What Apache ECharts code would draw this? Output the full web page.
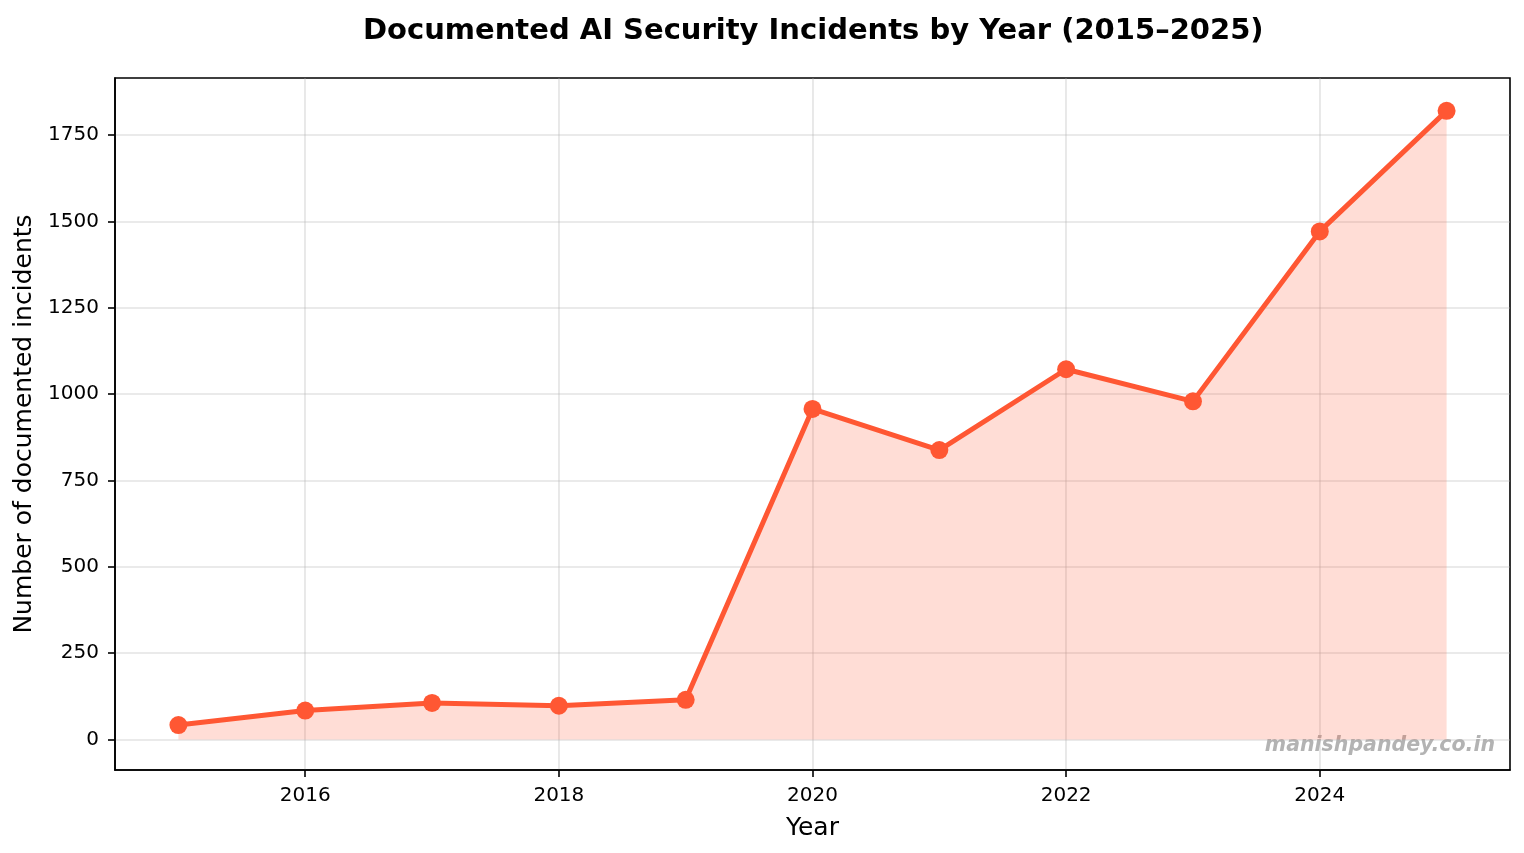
<!DOCTYPE html>
<html>
<head>
<meta charset="utf-8">
<script src="https://cdn.jsdelivr.net/npm/echarts@6/dist/echarts.min.js"></script>
<style>html,body{margin:0;padding:0;background:#fff}#c{width:1524px;height:853px}</style>
</head>
<body>
<div id="c"></div>
<script>
const years = [2015, 2016, 2017, 2018, 2019, 2020, 2021, 2022, 2023, 2024, 2025];
const incidents = [42, 84, 106, 98, 115, 957, 838, 1072, 979, 1471, 1820];
const xTicks = [2016, 2018, 2020, 2022, 2024];
const yTicks = [0, 250, 500, 750, 1000, 1250, 1500, 1750];
const titleText = 'Documented AI Security Incidents by Year (2015–2025)';
const xName = 'Year';
const yName = 'Number of documented incidents';
const watermark = 'manishpandey.co.in';

const font = 'DejaVu Sans';
const chart = echarts.init(document.getElementById('c'), null, {renderer: 'canvas'});
chart.setOption({
  animation: false,
  backgroundColor: '#fff',
  title: {
    text: titleText, left: 358, top: 12,
    textStyle: {fontFamily: font, fontSize: 29, fontWeight: 'bold', color: '#000'}
  },
  grid: {left: 115, right: 14, top: 78, bottom: 83, show: true, borderColor: '#000', borderWidth: 1.6, backgroundColor: 'transparent'},
  xAxis: {
    type: 'value', min: 2014.5, max: 2025.5,
    name: xName, nameLocation: 'middle', nameGap: 46,
    nameTextStyle: {fontFamily: font, fontSize: 25, color: '#000'},
    axisLine: {show: true, onZero: false, lineStyle: {color: '#000', width: 1.6}},
    axisTick: {show: true, length: 7, customValues: xTicks, lineStyle: {color: '#000', width: 1.6}},
    axisLabel: {customValues: xTicks, fontFamily: font, fontSize: 20, color: '#000', margin: 16, formatter: v => String(v)},
    splitLine: {show: true, customValues: xTicks, lineStyle: {color: 'rgba(176,176,176,0.35)', width: 1.6}}
  },
  yAxis: {
    type: 'value', min: -88, max: 1915,
    name: yName, nameLocation: 'middle', nameGap: 78,
    nameTextStyle: {fontFamily: font, fontSize: 25, color: '#000'},
    axisLine: {show: true, onZero: false, lineStyle: {color: '#000', width: 1.6}},
    axisTick: {show: true, length: 7, customValues: yTicks, lineStyle: {color: '#000', width: 1.6}},
    axisLabel: {customValues: yTicks, fontFamily: font, fontSize: 20, color: '#000', margin: 16, formatter: v => String(v)},
    splitLine: {show: true, customValues: yTicks, lineStyle: {color: 'rgba(176,176,176,0.35)', width: 1.6}}
  },
  series: [{
    type: 'line',
    data: years.map((y, i) => [y, incidents[i]]),
    symbol: 'circle', symbolSize: 18,
    itemStyle: {color: '#FF5733'},
    lineStyle: {color: '#FF5733', width: 5},
    areaStyle: {color: 'rgba(255,87,51,0.2)', opacity: 1, origin: 0},
    z: 3
  }],
  graphic: [{
    type: 'text', right: 29, top: 736,
    style: {text: watermark, fontFamily: font, fontSize: 20.5, fontWeight: 'bold', fontStyle: 'italic', fill: 'rgba(128,128,128,0.6)'}
  }]
});
</script>
</body>
</html>
